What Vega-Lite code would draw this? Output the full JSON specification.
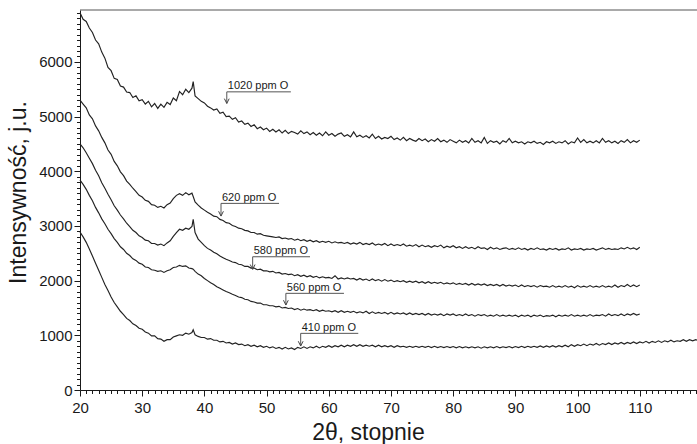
{
"$schema":"https://vega.github.io/schema/vega-lite/v6.json",
"width":617,"height":380,
"autosize":{"type":"none"},
"padding":{"left":80,"top":10,"right":0,"bottom":54},
"background":"white",
"config":{"view":{"stroke":null},"font":"Liberation Sans","axis":{"labelFont":"Liberation Sans","titleFont":"Liberation Sans","labelFontSize":15,"labelColor":"#1a1a1a","titleFontSize":23,"titleFontWeight":"normal","titleColor":"#1a1a1a","domainColor":"#1a1a1a","tickColor":"#1a1a1a","grid":false}},
"datasets":{
"curves":[
{"x":20,"a":6900,"b":5300,"c":4500,"d":3840,"e":2890},
{"x":20.5,"a":6780,"b":5230,"c":4430,"d":3760,"e":2800},
{"x":21,"a":6740,"b":5160,"c":4340,"d":3670,"e":2700},
{"x":21.5,"a":6620,"b":5030,"c":4240,"d":3560,"e":2580},
{"x":22,"a":6540,"b":4960,"c":4140,"d":3460,"e":2450},
{"x":22.5,"a":6400,"b":4830,"c":4020,"d":3340,"e":2320},
{"x":23,"a":6330,"b":4740,"c":3920,"d":3240,"e":2190},
{"x":23.5,"a":6180,"b":4620,"c":3790,"d":3130,"e":2060},
{"x":24,"a":6070,"b":4520,"c":3690,"d":3040,"e":1930},
{"x":24.5,"a":5900,"b":4390,"c":3580,"d":2940,"e":1820},
{"x":25,"a":5840,"b":4310,"c":3480,"d":2860,"e":1700},
{"x":25.5,"a":5700,"b":4180,"c":3370,"d":2770,"e":1600},
{"x":26,"a":5680,"b":4100,"c":3290,"d":2700,"e":1520},
{"x":26.5,"a":5560,"b":3990,"c":3200,"d":2620,"e":1440},
{"x":27,"a":5540,"b":3920,"c":3130,"d":2570,"e":1380},
{"x":27.5,"a":5450,"b":3820,"c":3050,"d":2500,"e":1310},
{"x":28,"a":5440,"b":3760,"c":2990,"d":2460,"e":1270},
{"x":28.5,"a":5350,"b":3690,"c":2920,"d":2400,"e":1210},
{"x":29,"a":5380,"b":3630,"c":2880,"d":2370,"e":1180},
{"x":29.5,"a":5290,"b":3560,"c":2820,"d":2320,"e":1130},
{"x":30,"a":5310,"b":3530,"c":2790,"d":2300,"e":1110},
{"x":30.5,"a":5230,"b":3470,"c":2740,"d":2250,"e":1060},
{"x":31,"a":5280,"b":3450,"c":2730,"d":2240,"e":1040},
{"x":31.5,"a":5180,"b":3390,"c":2680,"d":2200,"e":990},
{"x":32,"a":5240,"b":3380,"c":2680,"d":2190,"e":990},
{"x":32.5,"a":5150,"b":3340,"c":2650,"d":2170,"e":940},
{"x":33,"a":5230,"b":3360,"c":2670,"d":2180,"e":930},
{"x":33.5,"a":5170,"b":3330,"c":2640,"d":2150,"e":890},
{"x":34,"a":5260,"b":3390,"c":2690,"d":2180,"e":920},
{"x":34.5,"a":5220,"b":3420,"c":2730,"d":2200,"e":920},
{"x":35,"a":5340,"b":3500,"c":2810,"d":2240,"e":970},
{"x":35.5,"a":5290,"b":3560,"c":2880,"d":2250,"e":990},
{"x":36,"a":5460,"b":3590,"c":2940,"d":2280,"e":1010},
{"x":36.5,"a":5400,"b":3560,"c":2920,"d":2260,"e":1000},
{"x":37,"a":5500,"b":3610,"c":2960,"d":2270,"e":1040},
{"x":37.5,"a":5440,"b":3570,"c":2940,"d":2230,"e":1020},
{"x":38,"a":5520,"b":3600,"c":2990,"d":2220,"e":1050},
{"x":38.2,"a":5640,"b":3540,"c":3120,"d":2210,"e":1100},
{"x":38.5,"a":5380,"b":3440,"c":2880,"d":2170,"e":1010},
{"x":39,"a":5330,"b":3380,"c":2760,"d":2120,"e":980},
{"x":39.5,"a":5280,"b":3330,"c":2700,"d":2090,"e":960},
{"x":40,"a":5250,"b":3290,"c":2640,"d":2040,"e":960},
{"x":40.5,"a":5190,"b":3250,"c":2590,"d":2000,"e":930},
{"x":41,"a":5160,"b":3220,"c":2560,"d":1960,"e":940},
{"x":41.5,"a":5120,"b":3180,"c":2520,"d":1930,"e":910},
{"x":42,"a":5140,"b":3170,"c":2490,"d":1890,"e":910},
{"x":42.5,"a":5060,"b":3120,"c":2450,"d":1860,"e":880},
{"x":43,"a":5080,"b":3100,"c":2420,"d":1830,"e":890},
{"x":43.5,"a":5000,"b":3060,"c":2390,"d":1800,"e":860},
{"x":44,"a":5010,"b":3050,"c":2370,"d":1780,"e":870},
{"x":44.5,"a":4950,"b":3010,"c":2340,"d":1750,"e":840},
{"x":45,"a":4980,"b":2990,"c":2330,"d":1730,"e":860},
{"x":45.5,"a":4900,"b":2960,"c":2300,"d":1700,"e":830},
{"x":46,"a":4920,"b":2950,"c":2290,"d":1690,"e":840},
{"x":46.5,"a":4860,"b":2920,"c":2260,"d":1660,"e":810},
{"x":47,"a":4880,"b":2910,"c":2260,"d":1650,"e":830},
{"x":47.5,"a":4820,"b":2880,"c":2230,"d":1620,"e":800},
{"x":48,"a":4850,"b":2880,"c":2230,"d":1610,"e":820},
{"x":48.5,"a":4780,"b":2850,"c":2200,"d":1590,"e":790},
{"x":49,"a":4810,"b":2860,"c":2210,"d":1590,"e":810},
{"x":49.5,"a":4760,"b":2830,"c":2180,"d":1560,"e":780},
{"x":50,"a":4790,"b":2820,"c":2180,"d":1560,"e":800},
{"x":50.5,"a":4730,"b":2810,"c":2160,"d":1540,"e":770},
{"x":51,"a":4770,"b":2800,"c":2170,"d":1540,"e":790},
{"x":51.5,"a":4720,"b":2790,"c":2140,"d":1520,"e":760},
{"x":52,"a":4760,"b":2800,"c":2150,"d":1530,"e":780},
{"x":52.5,"a":4700,"b":2770,"c":2120,"d":1500,"e":750},
{"x":53,"a":4750,"b":2780,"c":2130,"d":1510,"e":780},
{"x":53.5,"a":4690,"b":2760,"c":2110,"d":1490,"e":750},
{"x":54,"a":4730,"b":2770,"c":2120,"d":1500,"e":770},
{"x":54.5,"a":4710,"b":2740,"c":2090,"d":1470,"e":740},
{"x":55,"a":4680,"b":2760,"c":2110,"d":1490,"e":780},
{"x":55.5,"a":4740,"b":2730,"c":2080,"d":1460,"e":760},
{"x":56,"a":4690,"b":2750,"c":2100,"d":1480,"e":790},
{"x":56.5,"a":4720,"b":2720,"c":2070,"d":1460,"e":760},
{"x":57,"a":4670,"b":2740,"c":2090,"d":1470,"e":790},
{"x":57.5,"a":4710,"b":2710,"c":2060,"d":1450,"e":770},
{"x":58,"a":4660,"b":2730,"c":2080,"d":1470,"e":800},
{"x":58.5,"a":4700,"b":2700,"c":2050,"d":1440,"e":770},
{"x":59,"a":4650,"b":2720,"c":2070,"d":1460,"e":800},
{"x":59.5,"a":4720,"b":2700,"c":2050,"d":1440,"e":780},
{"x":60,"a":4660,"b":2720,"c":2060,"d":1450,"e":810},
{"x":60.5,"a":4690,"b":2690,"c":2040,"d":1430,"e":780},
{"x":61,"a":4640,"b":2710,"c":2090,"d":1450,"e":810},
{"x":61.5,"a":4680,"b":2690,"c":2030,"d":1420,"e":790},
{"x":62,"a":4700,"b":2700,"c":2050,"d":1450,"e":820},
{"x":62.5,"a":4640,"b":2680,"c":2030,"d":1420,"e":790},
{"x":63,"a":4670,"b":2700,"c":2050,"d":1440,"e":820},
{"x":63.5,"a":4630,"b":2670,"c":2030,"d":1420,"e":800},
{"x":64,"a":4720,"b":2690,"c":2040,"d":1440,"e":830},
{"x":64.5,"a":4630,"b":2670,"c":2010,"d":1410,"e":800},
{"x":65,"a":4660,"b":2700,"c":2040,"d":1430,"e":830},
{"x":65.5,"a":4620,"b":2660,"c":2010,"d":1410,"e":800},
{"x":66,"a":4650,"b":2680,"c":2030,"d":1440,"e":820},
{"x":66.5,"a":4610,"b":2660,"c":2000,"d":1400,"e":800},
{"x":67,"a":4680,"b":2690,"c":2030,"d":1430,"e":820},
{"x":67.5,"a":4600,"b":2650,"c":2000,"d":1400,"e":790},
{"x":68,"a":4640,"b":2670,"c":2020,"d":1420,"e":820},
{"x":68.5,"a":4590,"b":2650,"c":1990,"d":1400,"e":790},
{"x":69,"a":4620,"b":2680,"c":2020,"d":1420,"e":810},
{"x":69.5,"a":4600,"b":2640,"c":1990,"d":1390,"e":790},
{"x":70,"a":4640,"b":2670,"c":2010,"d":1420,"e":810},
{"x":70.5,"a":4580,"b":2640,"c":1980,"d":1390,"e":780},
{"x":71,"a":4610,"b":2660,"c":2000,"d":1410,"e":810},
{"x":71.5,"a":4570,"b":2640,"c":1980,"d":1390,"e":790},
{"x":72,"a":4620,"b":2670,"c":2000,"d":1410,"e":800},
{"x":72.5,"a":4560,"b":2630,"c":1970,"d":1380,"e":780},
{"x":73,"a":4600,"b":2650,"c":1990,"d":1410,"e":800},
{"x":73.5,"a":4570,"b":2630,"c":1970,"d":1380,"e":780},
{"x":74,"a":4550,"b":2660,"c":1990,"d":1400,"e":800},
{"x":74.5,"a":4600,"b":2620,"c":1960,"d":1380,"e":780},
{"x":75,"a":4560,"b":2650,"c":1980,"d":1400,"e":800},
{"x":75.5,"a":4590,"b":2620,"c":1950,"d":1370,"e":780},
{"x":76,"a":4540,"b":2640,"c":1980,"d":1400,"e":800},
{"x":76.5,"a":4580,"b":2610,"c":1950,"d":1370,"e":775},
{"x":77,"a":4550,"b":2640,"c":1970,"d":1390,"e":800},
{"x":77.5,"a":4600,"b":2620,"c":1950,"d":1370,"e":775},
{"x":78,"a":4540,"b":2650,"c":1970,"d":1390,"e":795},
{"x":78.5,"a":4570,"b":2600,"c":1940,"d":1360,"e":775},
{"x":79,"a":4530,"b":2630,"c":1960,"d":1390,"e":795},
{"x":79.5,"a":4580,"b":2610,"c":1940,"d":1370,"e":775},
{"x":80,"a":4550,"b":2640,"c":1960,"d":1390,"e":795},
{"x":80.5,"a":4520,"b":2600,"c":1930,"d":1360,"e":770},
{"x":81,"a":4570,"b":2620,"c":1950,"d":1380,"e":795},
{"x":81.5,"a":4530,"b":2590,"c":1930,"d":1360,"e":770},
{"x":82,"a":4560,"b":2620,"c":1950,"d":1390,"e":790},
{"x":82.5,"a":4520,"b":2590,"c":1920,"d":1360,"e":770},
{"x":83,"a":4600,"b":2610,"c":1950,"d":1380,"e":790},
{"x":83.5,"a":4530,"b":2580,"c":1920,"d":1350,"e":770},
{"x":84,"a":4560,"b":2620,"c":1940,"d":1380,"e":790},
{"x":84.5,"a":4520,"b":2590,"c":1920,"d":1360,"e":765},
{"x":85,"a":4620,"b":2600,"c":1940,"d":1380,"e":790},
{"x":85.5,"a":4510,"b":2570,"c":1910,"d":1350,"e":770},
{"x":86,"a":4560,"b":2610,"c":1930,"d":1370,"e":790},
{"x":86.5,"a":4530,"b":2580,"c":1910,"d":1350,"e":770},
{"x":87,"a":4550,"b":2600,"c":1930,"d":1380,"e":795},
{"x":87.5,"a":4500,"b":2570,"c":1900,"d":1350,"e":770},
{"x":88,"a":4560,"b":2590,"c":1930,"d":1370,"e":790},
{"x":88.5,"a":4530,"b":2600,"c":1900,"d":1350,"e":775},
{"x":89,"a":4600,"b":2570,"c":1920,"d":1370,"e":795},
{"x":89.5,"a":4520,"b":2590,"c":1900,"d":1350,"e":770},
{"x":90,"a":4550,"b":2570,"c":1920,"d":1370,"e":795},
{"x":90.5,"a":4520,"b":2600,"c":1890,"d":1340,"e":775},
{"x":91,"a":4540,"b":2570,"c":1920,"d":1370,"e":800},
{"x":91.5,"a":4500,"b":2590,"c":1890,"d":1350,"e":775},
{"x":92,"a":4540,"b":2560,"c":1910,"d":1370,"e":800},
{"x":92.5,"a":4520,"b":2590,"c":1890,"d":1340,"e":780},
{"x":93,"a":4550,"b":2570,"c":1910,"d":1370,"e":800},
{"x":93.5,"a":4510,"b":2600,"c":1880,"d":1350,"e":780},
{"x":94,"a":4530,"b":2570,"c":1910,"d":1370,"e":805},
{"x":94.5,"a":4490,"b":2580,"c":1890,"d":1340,"e":780},
{"x":95,"a":4540,"b":2560,"c":1900,"d":1360,"e":805},
{"x":95.5,"a":4520,"b":2590,"c":1880,"d":1350,"e":785},
{"x":96,"a":4550,"b":2570,"c":1910,"d":1370,"e":810},
{"x":96.5,"a":4510,"b":2590,"c":1880,"d":1340,"e":785},
{"x":97,"a":4540,"b":2560,"c":1900,"d":1370,"e":810},
{"x":97.5,"a":4520,"b":2580,"c":1880,"d":1350,"e":790},
{"x":98,"a":4560,"b":2570,"c":1910,"d":1370,"e":820},
{"x":98.5,"a":4500,"b":2600,"c":1880,"d":1350,"e":790},
{"x":99,"a":4540,"b":2560,"c":1900,"d":1380,"e":830},
{"x":99.5,"a":4520,"b":2580,"c":1870,"d":1350,"e":800},
{"x":100,"a":4610,"b":2570,"c":1910,"d":1370,"e":830},
{"x":100.5,"a":4530,"b":2590,"c":1880,"d":1350,"e":810},
{"x":101,"a":4580,"b":2560,"c":1900,"d":1370,"e":840},
{"x":101.5,"a":4520,"b":2580,"c":1880,"d":1350,"e":810},
{"x":102,"a":4550,"b":2570,"c":1910,"d":1380,"e":840},
{"x":102.5,"a":4520,"b":2590,"c":1880,"d":1350,"e":820},
{"x":103,"a":4560,"b":2560,"c":1900,"d":1370,"e":850},
{"x":103.5,"a":4520,"b":2580,"c":1880,"d":1360,"e":820},
{"x":104,"a":4600,"b":2600,"c":1910,"d":1380,"e":850},
{"x":104.5,"a":4530,"b":2570,"c":1880,"d":1350,"e":830},
{"x":105,"a":4560,"b":2590,"c":1900,"d":1390,"e":860},
{"x":105.5,"a":4520,"b":2570,"c":1880,"d":1360,"e":830},
{"x":106,"a":4550,"b":2580,"c":1920,"d":1380,"e":860},
{"x":106.5,"a":4510,"b":2570,"c":1880,"d":1360,"e":840},
{"x":107,"a":4560,"b":2600,"c":1910,"d":1390,"e":870},
{"x":107.5,"a":4530,"b":2580,"c":1890,"d":1360,"e":840},
{"x":108,"a":4580,"b":2610,"c":1930,"d":1390,"e":870},
{"x":108.5,"a":4520,"b":2580,"c":1890,"d":1370,"e":850},
{"x":109,"a":4560,"b":2600,"c":1920,"d":1400,"e":880},
{"x":109.5,"a":4530,"b":2570,"c":1890,"d":1370,"e":850},
{"x":110,"a":4570,"b":2610,"c":1920,"d":1390,"e":880},
{"x":110.5,"e":860},{"x":111,"e":890},{"x":111.5,"e":860},{"x":112,"e":890},
{"x":112.5,"e":870},{"x":113,"e":900},{"x":113.5,"e":870},{"x":114,"e":900},
{"x":114.5,"e":880},{"x":115,"e":910},{"x":115.5,"e":880},{"x":116,"e":900},
{"x":116.5,"e":890},{"x":117,"e":920},{"x":117.5,"e":890},{"x":118,"e":920},
{"x":118.5,"e":900},{"x":119,"e":920},{"x":119.2,"e":910}
],
"notes":[
{"label":"1020 ppm O","ax":43.6,"ly":5453,"tip":5241,"ex":53.9},
{"label":"620 ppm O","ax":42.67,"ly":3413,"tip":3181,"ex":52.0},
{"label":"580 ppm O","ax":47.76,"ly":2437,"tip":2207,"ex":56.98},
{"label":"560 ppm O","ax":53.1,"ly":1768,"tip":1554,"ex":62.44},
{"label":"410 ppm O","ax":55.48,"ly":1036,"tip":804,"ex":64.74}
]
},
"layer":[
{
"data":{"name":"curves"},
"transform":[{"fold":["a","b","c","d","e"],"as":["s","v"]},{"filter":"isValid(datum.v)"}],
"mark":{"type":"line","stroke":"#222222","strokeWidth":1.15,"interpolate":"linear"},
"encoding":{
"x":{"field":"x","type":"quantitative","scale":{"domain":[20,119.2],"nice":false,"zero":false},
"axis":{"orient":"bottom","tickCount":500,"values":[20,21,22,23,24,25,26,27,28,29,30,31,32,33,34,35,36,37,38,39,40,41,42,43,44,45,46,47,48,49,50,51,52,53,54,55,56,57,58,59,60,61,62,63,64,65,66,67,68,69,70,71,72,73,74,75,76,77,78,79,80,81,82,83,84,85,86,87,88,89,90,91,92,93,94,95,96,97,98,99,100,101,102,103,104,105,106,107,108,109,110,111,112,113,114,115,116,117,118,119],
"format":"d","labelExpr":"datum.value % 10 === 0 ? datum.label : ''","labelOverlap":false,"labelFlush":false,"labelBound":false,
"tickSize":{"condition":{"test":"datum.value % 10 === 0","value":6},"value":3.5},
"labelPadding":4,"labelBaseline":"top","title":"2θ, stopnie","titleX":288,"titleY":49,"titleAlign":"center","titleBaseline":"alphabetic","titleAnchor":null}},
"y":{"field":"v","type":"quantitative","scale":{"domain":[0,6950],"nice":false,"zero":true},
"axis":{"orient":"left","tickCount":500,"values":[0,100,200,300,400,500,600,700,800,900,1000,1100,1200,1300,1400,1500,1600,1700,1800,1900,2000,2100,2200,2300,2400,2500,2600,2700,2800,2900,3000,3100,3200,3300,3400,3500,3600,3700,3800,3900,4000,4100,4200,4300,4400,4500,4600,4700,4800,4900,5000,5100,5200,5300,5400,5500,5600,5700,5800,5900,6000,6100,6200,6300,6400,6500,6600,6700,6800,6900],
"format":"d","labelExpr":"datum.value % 1000 === 0 ? datum.label : ''","labelOverlap":false,"labelFlush":false,"labelBound":false,
"tickSize":{"condition":{"test":"datum.value % 1000 === 0","value":6},"value":3.5},
"labelPadding":2,"title":"Intensywność, j.u.","titleAngle":-90,"titleX":-55,"titleY":182,"titleAlign":"center","titleBaseline":"alphabetic","titleAnchor":null}},
"detail":{"field":"s","type":"nominal"}
}
},
{
"data":{"values":[{"top":6950}]},
"mark":{"type":"rule","stroke":"#555555","strokeWidth":1},
"encoding":{"y":{"field":"top","type":"quantitative"}}
},
{
"data":{"name":"notes"},
"mark":{"type":"rule","stroke":"#555555","strokeWidth":1},
"encoding":{
"x":{"field":"ax","type":"quantitative"},
"x2":{"field":"ex"},
"y":{"field":"ly","type":"quantitative"}
}
},
{
"data":{"name":"notes"},
"mark":{"type":"rule","stroke":"#555555","strokeWidth":1},
"encoding":{
"x":{"field":"ax","type":"quantitative"},
"y":{"field":"ly","type":"quantitative"},
"y2":{"field":"tip"}
}
},
{
"data":{"name":"notes"},
"mark":{"type":"point","shape":"M-0.8,-1.6L0,0L0.8,-1.6","size":36,"filled":false,"stroke":"#444444","strokeWidth":1,"opacity":1},
"encoding":{
"x":{"field":"ax","type":"quantitative"},
"y":{"field":"tip","type":"quantitative"}
}
},
{
"data":{"name":"notes"},
"mark":{"type":"text","font":"Liberation Sans","fontSize":11,"align":"left","baseline":"alphabetic","dx":1,"dy":-2.5,"color":"#1a1a1a"},
"encoding":{
"x":{"field":"ax","type":"quantitative"},
"y":{"field":"ly","type":"quantitative"},
"text":{"field":"label","type":"nominal"}
}
}
]
}
